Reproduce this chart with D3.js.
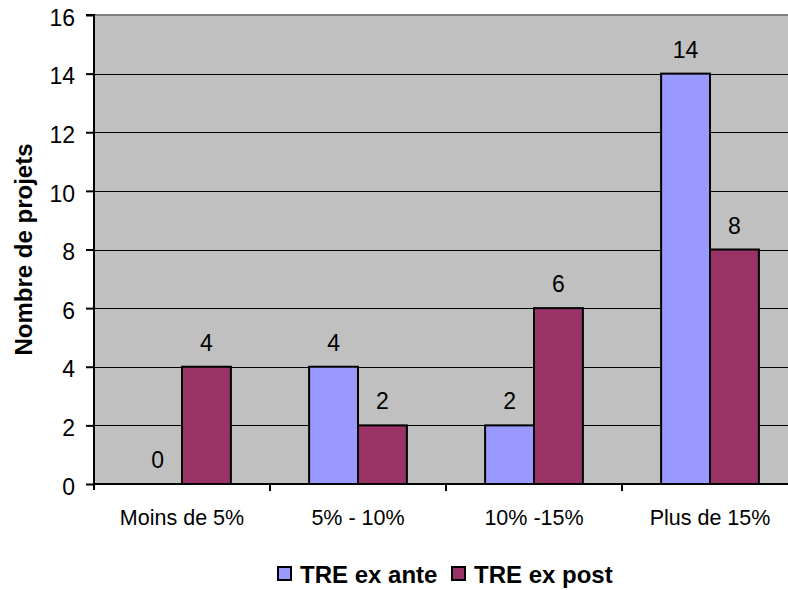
<!DOCTYPE html>
<html>
<head>
<meta charset="utf-8">
<script src="https://cdn.jsdelivr.net/npm/d3@7"></script>
<style>
  html, body { margin: 0; padding: 0; background: #fff; }
  svg { display: block; font-family: Arial, "Liberation Sans", sans-serif; }
</style>
</head>
<body>
<svg id="chart" width="788" height="590"></svg>
<script>
// Répartition des projets par tranche de TRE
const categories = ["Moins de 5%", "5% - 10%", "10% -15%", "Plus de 15%"];
const series = ["TRE ex ante", "TRE ex post"];
const exAnte = [0, 4, 2, 14];
const exPost = [4, 2, 6, 8];
const yTicks = [0, 2, 4, 6, 8, 10, 12, 14, 16];
const colors = ["#9999FF", "#993366"];

const values = [exAnte, exPost];
const svg = d3.select("#chart");
const FONT = "Arial, 'Liberation Sans', sans-serif";

const plot = { left: 94, top: 15, right: 798, bottom: 484 };

const x0 = d3.scaleBand()
  .domain(categories)
  .range([plot.left, plot.right])
  .paddingInner(0).paddingOuter(0);

const x1 = d3.scaleBand()
  .domain(series)
  .range([0, x0.bandwidth()])
  .paddingInner(0)
  .paddingOuter(0.8);

const y = d3.scaleLinear()
  .domain([0, 16])
  .range([plot.bottom, plot.top]);

// plot background
svg.append("rect")
  .attr("x", plot.left).attr("y", plot.top)
  .attr("width", plot.right - plot.left)
  .attr("height", plot.bottom - plot.top)
  .attr("fill", "#C0C0C0");

// horizontal grid
svg.append("g")
  .selectAll("line")
  .data(yTicks.filter(t => t > 0 && t < 16))
  .join("line")
  .attr("x1", plot.left).attr("x2", plot.right)
  .attr("y1", d => Math.round(y(d)) + 0.5)
  .attr("y2", d => Math.round(y(d)) + 0.5)
  .attr("stroke", "#000").attr("stroke-width", 1);

// top border
svg.append("line")
  .attr("x1", plot.left).attr("x2", plot.right)
  .attr("y1", plot.top).attr("y2", plot.top)
  .attr("stroke", "#808080").attr("stroke-width", 2);

// bars
const groups = svg.append("g")
  .selectAll("g")
  .data(series)
  .join("g")
  .attr("fill", (d, i) => colors[i]);

groups.selectAll("rect")
  .data((s, si) => categories.map((c, ci) => ({ c, s, v: values[si][ci] })))
  .join("rect")
  .filter(d => d.v > 0)
  .attr("x", d => x0(d.c) + x1(d.s))
  .attr("y", d => y(d.v))
  .attr("width", x1.bandwidth())
  .attr("height", d => y(0) - y(d.v))
  .attr("stroke", "#000")
  .attr("stroke-width", 2);

// value labels
svg.append("g")
  .selectAll("text")
  .data(series.flatMap((s, si) => categories.map((c, ci) => ({ c, s, v: values[si][ci] }))))
  .join("text")
  .attr("x", d => x0(d.c) + x1(d.s) + x1.bandwidth() / 2)
  .attr("y", d => y(d.v) - 16)
  .attr("text-anchor", "middle")
  .attr("font-size", 23)
  .attr("fill", "#000")
  .text(d => d.v);

// y axis
const yAxis = d3.axisLeft(y).tickValues(yTicks).tickSize(8).tickPadding(11);
const gy = svg.append("g")
  .attr("transform", `translate(${plot.left},0)`)
  .call(yAxis);
gy.select(".domain").attr("stroke", "#000").attr("stroke-width", 2)
  .attr("d", `M-8,${y(16)}H0V${y(0) + 6}`);
gy.selectAll(".tick line").attr("stroke", "#000").attr("stroke-width", 2);
gy.selectAll(".tick text")
  .attr("font-size", 23).attr("fill", "#000")
  .attr("font-family", FONT)
  .attr("dy", "0.44em");

// x axis
const gx = svg.append("g")
  .attr("transform", `translate(0,${plot.bottom})`);
gx.append("line")
  .attr("x1", plot.left).attr("x2", plot.right)
  .attr("y1", 0).attr("y2", 0)
  .attr("stroke", "#000").attr("stroke-width", 2);
gx.selectAll("line.tk")
  .data(categories.slice(1).concat(["__end"]))
  .join("line")
  .attr("class", "tk")
  .attr("x1", d => d === "__end" ? plot.right : x0(d))
  .attr("x2", d => d === "__end" ? plot.right : x0(d))
  .attr("y1", 0).attr("y2", 7)
  .attr("stroke", "#000").attr("stroke-width", 2);
gx.selectAll("text")
  .data(categories)
  .join("text")
  .attr("x", d => x0(d) + x0.bandwidth() / 2)
  .attr("y", 41)
  .attr("text-anchor", "middle")
  .attr("font-size", 21.5)
  .attr("fill", "#000")
  .text(d => d);

// y axis title
svg.append("text")
  .attr("transform", `translate(32,${(plot.top + plot.bottom) / 2}) rotate(-90)`)
  .attr("text-anchor", "middle")
  .attr("font-size", 24)
  .attr("font-weight", "bold")
  .attr("fill", "#000")
  .text("Nombre de projets");

// legend
const legend = svg.append("g");
const legendX = [278, 452];
series.forEach((s, i) => {
  legend.append("rect")
    .attr("x", legendX[i]).attr("y", 567)
    .attr("width", 13).attr("height", 13)
    .attr("fill", colors[i])
    .attr("stroke", "#000").attr("stroke-width", 2);
  legend.append("text")
    .attr("x", legendX[i] + 22).attr("y", 583)
    .attr("font-size", 24)
    .attr("font-weight", "bold")
    .attr("fill", "#000")
    .text(s);
});
</script>
</body>
</html>
